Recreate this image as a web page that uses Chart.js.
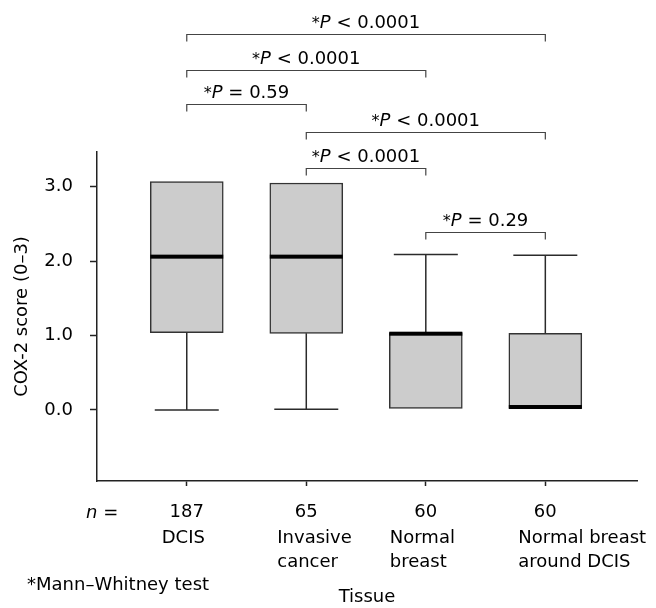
<!DOCTYPE html>
<html>
<head>
<script src="https://cdn.jsdelivr.net/npm/chart.js@4"></script>
<style>
  body { margin: 0; background: #fff; }
  #chart-box { position: relative; width: 656px; height: 608px; }
</style>
</head>
<body>
<div id="chart-box"><canvas id="chart"></canvas></div>
<script>
// data
var tissues = [['DCIS'], ['Invasive', 'cancer'], ['Normal', 'breast'], ['Normal breast', 'around DCIS']];
var counts = [187, 65, 60, 60];
var whiskerLow = [0.0, 0.01, 0.02, 0.02];
var q1 = [1.04, 1.03, 0.02, 0.02];
var median = [2.06, 2.06, 1.025, 0.04];
var q3 = [3.07, 3.05, 1.04, 1.03];
var whiskerHigh = [3.07, 3.05, 2.09, 2.08];
var yTicks = [0, 1, 2, 3];
// Mann-Whitney comparisons: [tissue a, tissue b, sign, p]
var tests = [
  [1, 4, '<', '0.0001'],
  [1, 3, '<', '0.0001'],
  [1, 2, '=', '0.59'],
  [2, 4, '<', '0.0001'],
  [2, 3, '<', '0.0001'],
  [3, 4, '=', '0.29']
];

// layout bits (not data)
var bracketLevel = [5.05, 4.57, 4.107, 3.73, 3.247, 2.387];
var nameLeft = [-25, -29, -36, -27];
var FONT = '"DejaVu Sans", sans-serif';
var INK = '#000';

function font(size, style) {
  return (style || '') + ' ' + size + 'px ' + FONT;
}

// draw runs of text, each piece with its own font, starting at x
function drawRuns(ctx, runs, x, y, align) {
  var w = 0;
  runs.forEach(function (r) { ctx.font = r[1]; w += ctx.measureText(r[0]).width; });
  if (align === 'center') x -= w / 2;
  runs.forEach(function (r) {
    ctx.font = r[1];
    ctx.fillText(r[0], x, y + (r[2] || 0));
    x += ctx.measureText(r[0]).width;
  });
}

var boxExtras = {
  id: 'boxExtras',
  afterDraw: function (chart) {
    var ctx = chart.ctx;
    var xs = chart.scales.x, ys = chart.scales.y;
    ctx.save();

    // whiskers and medians
    ctx.strokeStyle = '#2b2b2b';
    ctx.lineWidth = 1.5;
    for (var i = 0; i < counts.length; i++) {
      var cx = xs.getPixelForValue(i + 1);
      [[q3[i], whiskerHigh[i]], [q1[i], whiskerLow[i]]].forEach(function (w) {
        if (Math.abs(w[0] - w[1]) < 0.05) return;
        var y0 = ys.getPixelForValue(w[0]), y1 = ys.getPixelForValue(w[1]);
        ctx.beginPath();
        ctx.moveTo(cx, y0); ctx.lineTo(cx, y1);
        ctx.moveTo(cx - 32, y1); ctx.lineTo(cx + 32, y1);
        ctx.stroke();
      });
      ctx.fillStyle = '#000';
      ctx.fillRect(cx - 36.5, ys.getPixelForValue(median[i]) - 2, 73, 4);
    }

    // significance brackets
    ctx.strokeStyle = '#444';
    ctx.lineWidth = 1.2;
    ctx.fillStyle = INK;
    ctx.textBaseline = 'alphabetic';
    tests.forEach(function (t, k) {
      var xa = xs.getPixelForValue(t[0]), xb = xs.getPixelForValue(t[1]);
      var yl = Math.round(ys.getPixelForValue(bracketLevel[k])) + 0.5;
      ctx.beginPath();
      ctx.moveTo(xa, yl + 7); ctx.lineTo(xa, yl); ctx.lineTo(xb, yl); ctx.lineTo(xb, yl + 7);
      ctx.stroke();
      drawRuns(ctx, [['*', font(16)], ['P', font(18, 'oblique')], [' ' + t[2] + ' ' + t[3], font(18)]],
        (xa + xb) / 2, yl - 7, 'center');
    });

    // n = row label, tissue names, footnote
    drawRuns(ctx, [['n', font(18, 'oblique')], [' =', font(18)]], 86, 518);
    ctx.font = font(18);
    ctx.textAlign = 'left';
    tissues.forEach(function (lines, i) {
      var lx = xs.getPixelForValue(i + 1) + nameLeft[i];
      lines.forEach(function (s, j) { ctx.fillText(s, lx, 543 + j * 24); });
    });
    ctx.fillText('*Mann\u2013Whitney test', 27, 590);
    ctx.restore();
  }
};

new Chart(document.getElementById('chart'), {
  type: 'bar',
  data: {
    datasets: [{
      data: tissues.map(function (t, i) { return { x: i + 1, y: [q1[i], q3[i]] }; }),
      backgroundColor: '#cccccc',
      borderColor: '#333',
      borderWidth: 1.5,
      borderSkipped: false,
      barThickness: 73
    }]
  },
  options: {
    responsive: true,
    maintainAspectRatio: false,
    animation: false,
    layout: { padding: { top: 152, right: 19, left: 0, bottom: 0 } },
    plugins: { legend: { display: false }, tooltip: { enabled: false } },
    scales: {
      x: {
        type: 'linear',
        offset: false,
        min: 0.249,
        max: 4.767,
        afterBuildTicks: function (s) { s.ticks = counts.map(function (c, i) { return { value: i + 1 }; }); },
        afterFit: function (s) { s.height = 127; },
        ticks: {
          callback: function (v) { return counts[v - 1]; },
          font: { family: FONT, size: 18 },
          color: INK,
          padding: 16,
          maxRotation: 0
        },
        grid: { offset: false, drawOnChartArea: false, tickLength: 5, color: '#222', tickWidth: 1.5 },
        border: { color: '#222', width: 1.5 },
        title: {
          display: true,
          text: 'Tissue',
          font: { family: FONT, size: 18 },
          color: INK,
          padding: { top: 0, bottom: 0 }
        }
      },
      y: {
        min: -0.954,
        max: 3.466,
        afterBuildTicks: function (s) { s.ticks = yTicks.map(function (v) { return { value: v }; }); },
        afterFit: function (s) { s.width = 97; },
        ticks: {
          callback: function (v) { return v.toFixed(1); },
          font: { family: FONT, size: 18 },
          color: INK,
          padding: 17
        },
        grid: { drawOnChartArea: false, tickLength: 7, color: '#222', tickWidth: 1.5 },
        border: { color: '#222', width: 1.5 },
        title: {
          display: true,
          text: 'COX-2 score (0\u20133)',
          font: { family: FONT, size: 18 },
          color: INK,
          padding: { top: 12, bottom: 0 }
        }
      }
    }
  },
  plugins: [boxExtras]
});
</script>
</body>
</html>
